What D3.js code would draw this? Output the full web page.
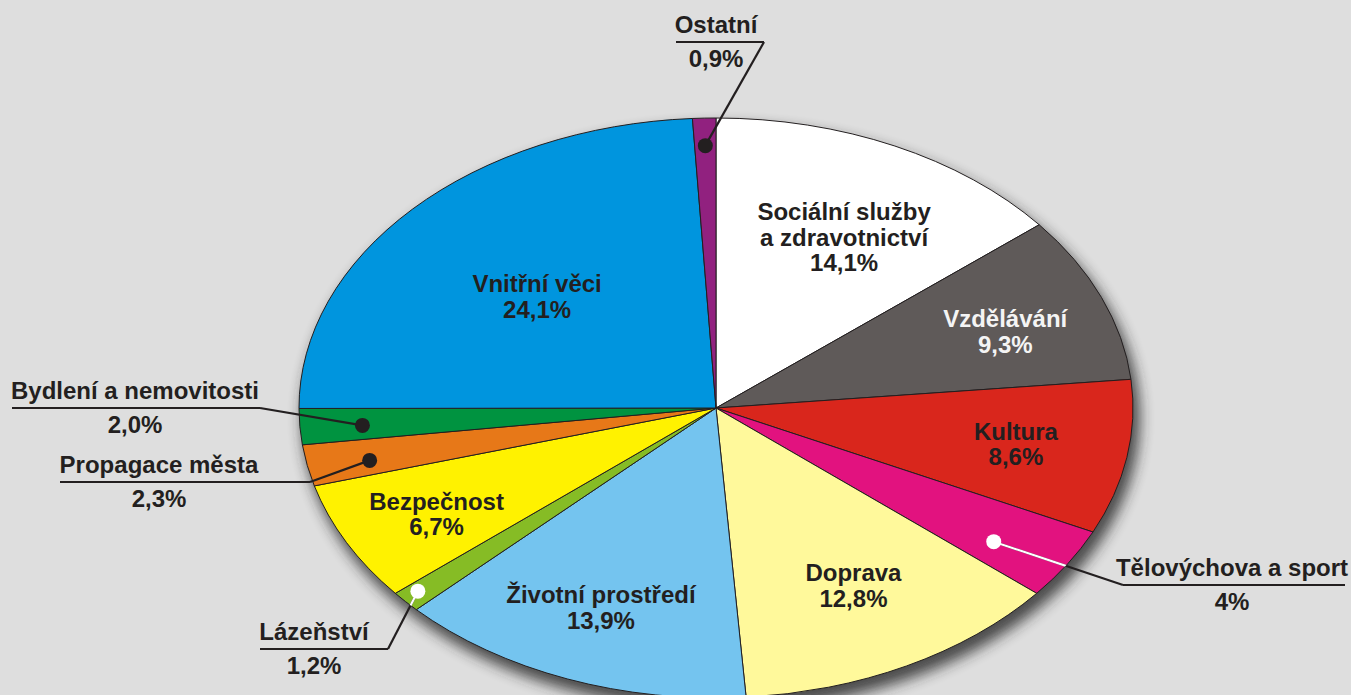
<!DOCTYPE html>
<html>
<head>
<meta charset="utf-8">
<script src="https://cdn.jsdelivr.net/npm/d3@7"></script>
<style>
    html, body { margin: 0; padding: 0; background: #dedede; overflow: hidden; }
    text { font-family: "Liberation Sans", Arial, sans-serif; font-weight: bold; }
</style>
</head>
<body>
<div id="chart"></div>
<script>
// data (shares of the budget, clockwise from 12 o'clock)
var categories = ["Sociální služby a zdravotnictví", "Vzdělávání", "Kultura", "Tělovýchova a sport",
                  "Doprava", "Životní prostředí", "Lázeňství", "Bezpečnost", "Propagace města",
                  "Bydlení a nemovitosti", "Vnitřní věci", "Ostatní"];
var values = [14.1, 9.3, 8.6, 4, 12.8, 13.9, 1.2, 6.7, 2.3, 2.0, 24.1, 0.9];
var valueLabels = ["14,1%", "9,3%", "8,6%", "4%", "12,8%", "13,9%", "1,2%", "6,7%", "2,3%", "2,0%", "24,1%", "0,9%"];
var colors = ["#ffffff", "#5f5a59", "#d9261c", "#e2127f", "#fff99b", "#74c4ef",
              "#86bc25", "#fff200", "#e77818", "#009340", "#0095de", "#91217f"];

var w = 1351, h = 695;
var cx = 716, cy = 408;   // ellipse centre
var rx = 417, ry = 290;   // ellipse radii
var ink = "#231f20";
var fontSize = 24;

// labels drawn inside their slice: radial position (0..1), small nudges, text colour
var insideLabels = [
    { i: 0, lines: ["Sociální služby", "a zdravotnictví"], r: 0.66, dx: 10, dy: 2, fill: ink },
    { i: 1, lines: ["Vzdělávání"], r: 0.74, dx: 4, dy: 5, fill: "#f4f4f4" },
    { i: 2, lines: ["Kultura"], r: 0.73, dx: 0, dy: 0, fill: ink },
    { i: 4, lines: ["Doprava"], r: 0.70, dx: 4, dy: -3, fill: ink },
    { i: 5, lines: ["Životní prostředí"], r: 0.74, dx: -5, dy: -1, fill: ink },
    { i: 7, lines: ["Bezpečnost"], r: 0.77, dx: 5, dy: 2, fill: ink },
    { i: 10, lines: ["Vnitřní věci"], r: 0.58, dx: -3, dy: 4, fill: ink }
];

// labels outside with a leader line: dot inside slice, elbow, underline
var outsideLabels = [
    { i: 11, t: 0.5,  r: 0.905, white: false, lineY: 42,  x0: 676,  x1: 764,  elbow: "right", textX: 716 },
    { i: 9,  t: 0.45, r: 0.85,  white: false, lineY: 408, x0: 12,   x1: 260,  elbow: "right", textX: 135 },
    { i: 8,  t: 0.4,  r: 0.85,  white: false, lineY: 482, x0: 60,   x1: 310,  elbow: "right", textX: 159 },
    { i: 3,  t: 0.65, r: 0.81,  white: true,  lineY: 585, x0: 1123, x1: 1345, elbow: "left",  textX: 1232 },
    { i: 6,  t: 0.6,  r: 0.954, white: true,  lineY: 649, x0: 260,  x1: 388,  elbow: "right", textX: 314 }
];

var svg = d3.select("#chart")
            .append("svg")
            .attr("width", w)
            .attr("height", h)
            .style("background-color", "#dedede");

var defs = svg.append("defs");

// soft drop shadow under the pie
defs.append("filter")
    .attr("id", "shadow")
    .attr("x", "-20%").attr("y", "-20%")
    .attr("width", "140%").attr("height", "140%")
    .append("feGaussianBlur")
    .attr("stdDeviation", 7);

defs.append("clipPath")
    .attr("id", "pieClip")
    .append("ellipse")
    .attr("cx", cx).attr("cy", cy)
    .attr("rx", rx).attr("ry", ry);

svg.append("ellipse")
    .attr("cx", cx + 5).attr("cy", cy + 10)
    .attr("rx", rx + 2).attr("ry", ry + 2)
    .attr("fill", "#262626")
    .attr("opacity", 0.8)
    .attr("filter", "url(#shadow)");

var pie = d3.pie().sort(null).value(function(d) { return d; });
var arcs = pie(values);

// circle pie of radius ry, stretched horizontally into the ellipse
var arc = d3.arc().innerRadius(0).outerRadius(ry);

svg.append("g")
    .attr("transform", "translate(" + cx + "," + cy + ") scale(" + (rx / ry) + ",1)")
    .selectAll("path")
    .data(arcs)
    .enter()
    .append("path")
    .attr("d", arc)
    .attr("fill", function(d, i) { return colors[i]; })
    .attr("stroke", ink)
    .attr("stroke-width", 1)
    .attr("vector-effect", "non-scaling-stroke");

// point on the ellipse at angle a (clockwise from top) and radial fraction r
function pt(a, r) {
    return [cx + Math.sin(a) * rx * r, cy - Math.cos(a) * ry * r];
}

// inside labels
insideLabels.forEach(function(l) {
    var d = arcs[l.i];
    var p = pt((d.startAngle + d.endAngle) / 2, l.r);
    var x = p[0] + l.dx, y = p[1] + l.dy;
    var lines = l.lines.concat([valueLabels[l.i]]);
    var lh = 25.5;
    var t = svg.append("text")
        .attr("x", x)
        .attr("y", y - (lines.length - 1) * lh / 2)
        .attr("text-anchor", "middle")
        .attr("font-size", fontSize)
        .attr("fill", l.fill);
    lines.forEach(function(s, k) {
        t.append("tspan")
         .attr("x", x)
         .attr("dy", k === 0 ? "0.36em" : lh)
         .text(s);
    });
});

// outside labels with leader lines
outsideLabels.forEach(function(l) {
    var d = arcs[l.i];
    var dot = pt(d.startAngle + (d.endAngle - d.startAngle) * l.t, l.r);
    var ex = l.elbow === "right" ? l.x1 : l.x0;

    svg.append("line")
        .attr("x1", l.x0).attr("y1", l.lineY)
        .attr("x2", l.x1).attr("y2", l.lineY)
        .attr("stroke", ink).attr("stroke-width", 2.2);

    svg.append("line")
        .attr("x1", ex).attr("y1", l.lineY)
        .attr("x2", dot[0]).attr("y2", dot[1])
        .attr("stroke", ink).attr("stroke-width", 2.2);

    if (l.white) {
        // part of the leader inside the pie is white
        svg.append("line")
            .attr("x1", ex).attr("y1", l.lineY)
            .attr("x2", dot[0]).attr("y2", dot[1])
            .attr("stroke", "#ffffff").attr("stroke-width", 2.2)
            .attr("clip-path", "url(#pieClip)");
    }

    svg.append("circle")
        .attr("cx", dot[0]).attr("cy", dot[1])
        .attr("r", 7.5)
        .attr("fill", l.white ? "#ffffff" : ink);

    svg.append("text")
        .attr("x", l.textX).attr("y", l.lineY - 9)
        .attr("text-anchor", "middle")
        .attr("font-size", fontSize)
        .attr("fill", ink)
        .text(categories[l.i]);

    svg.append("text")
        .attr("x", l.textX).attr("y", l.lineY + 25)
        .attr("text-anchor", "middle")
        .attr("font-size", fontSize)
        .attr("fill", ink)
        .text(valueLabels[l.i]);
});
</script>
</body>
</html>
